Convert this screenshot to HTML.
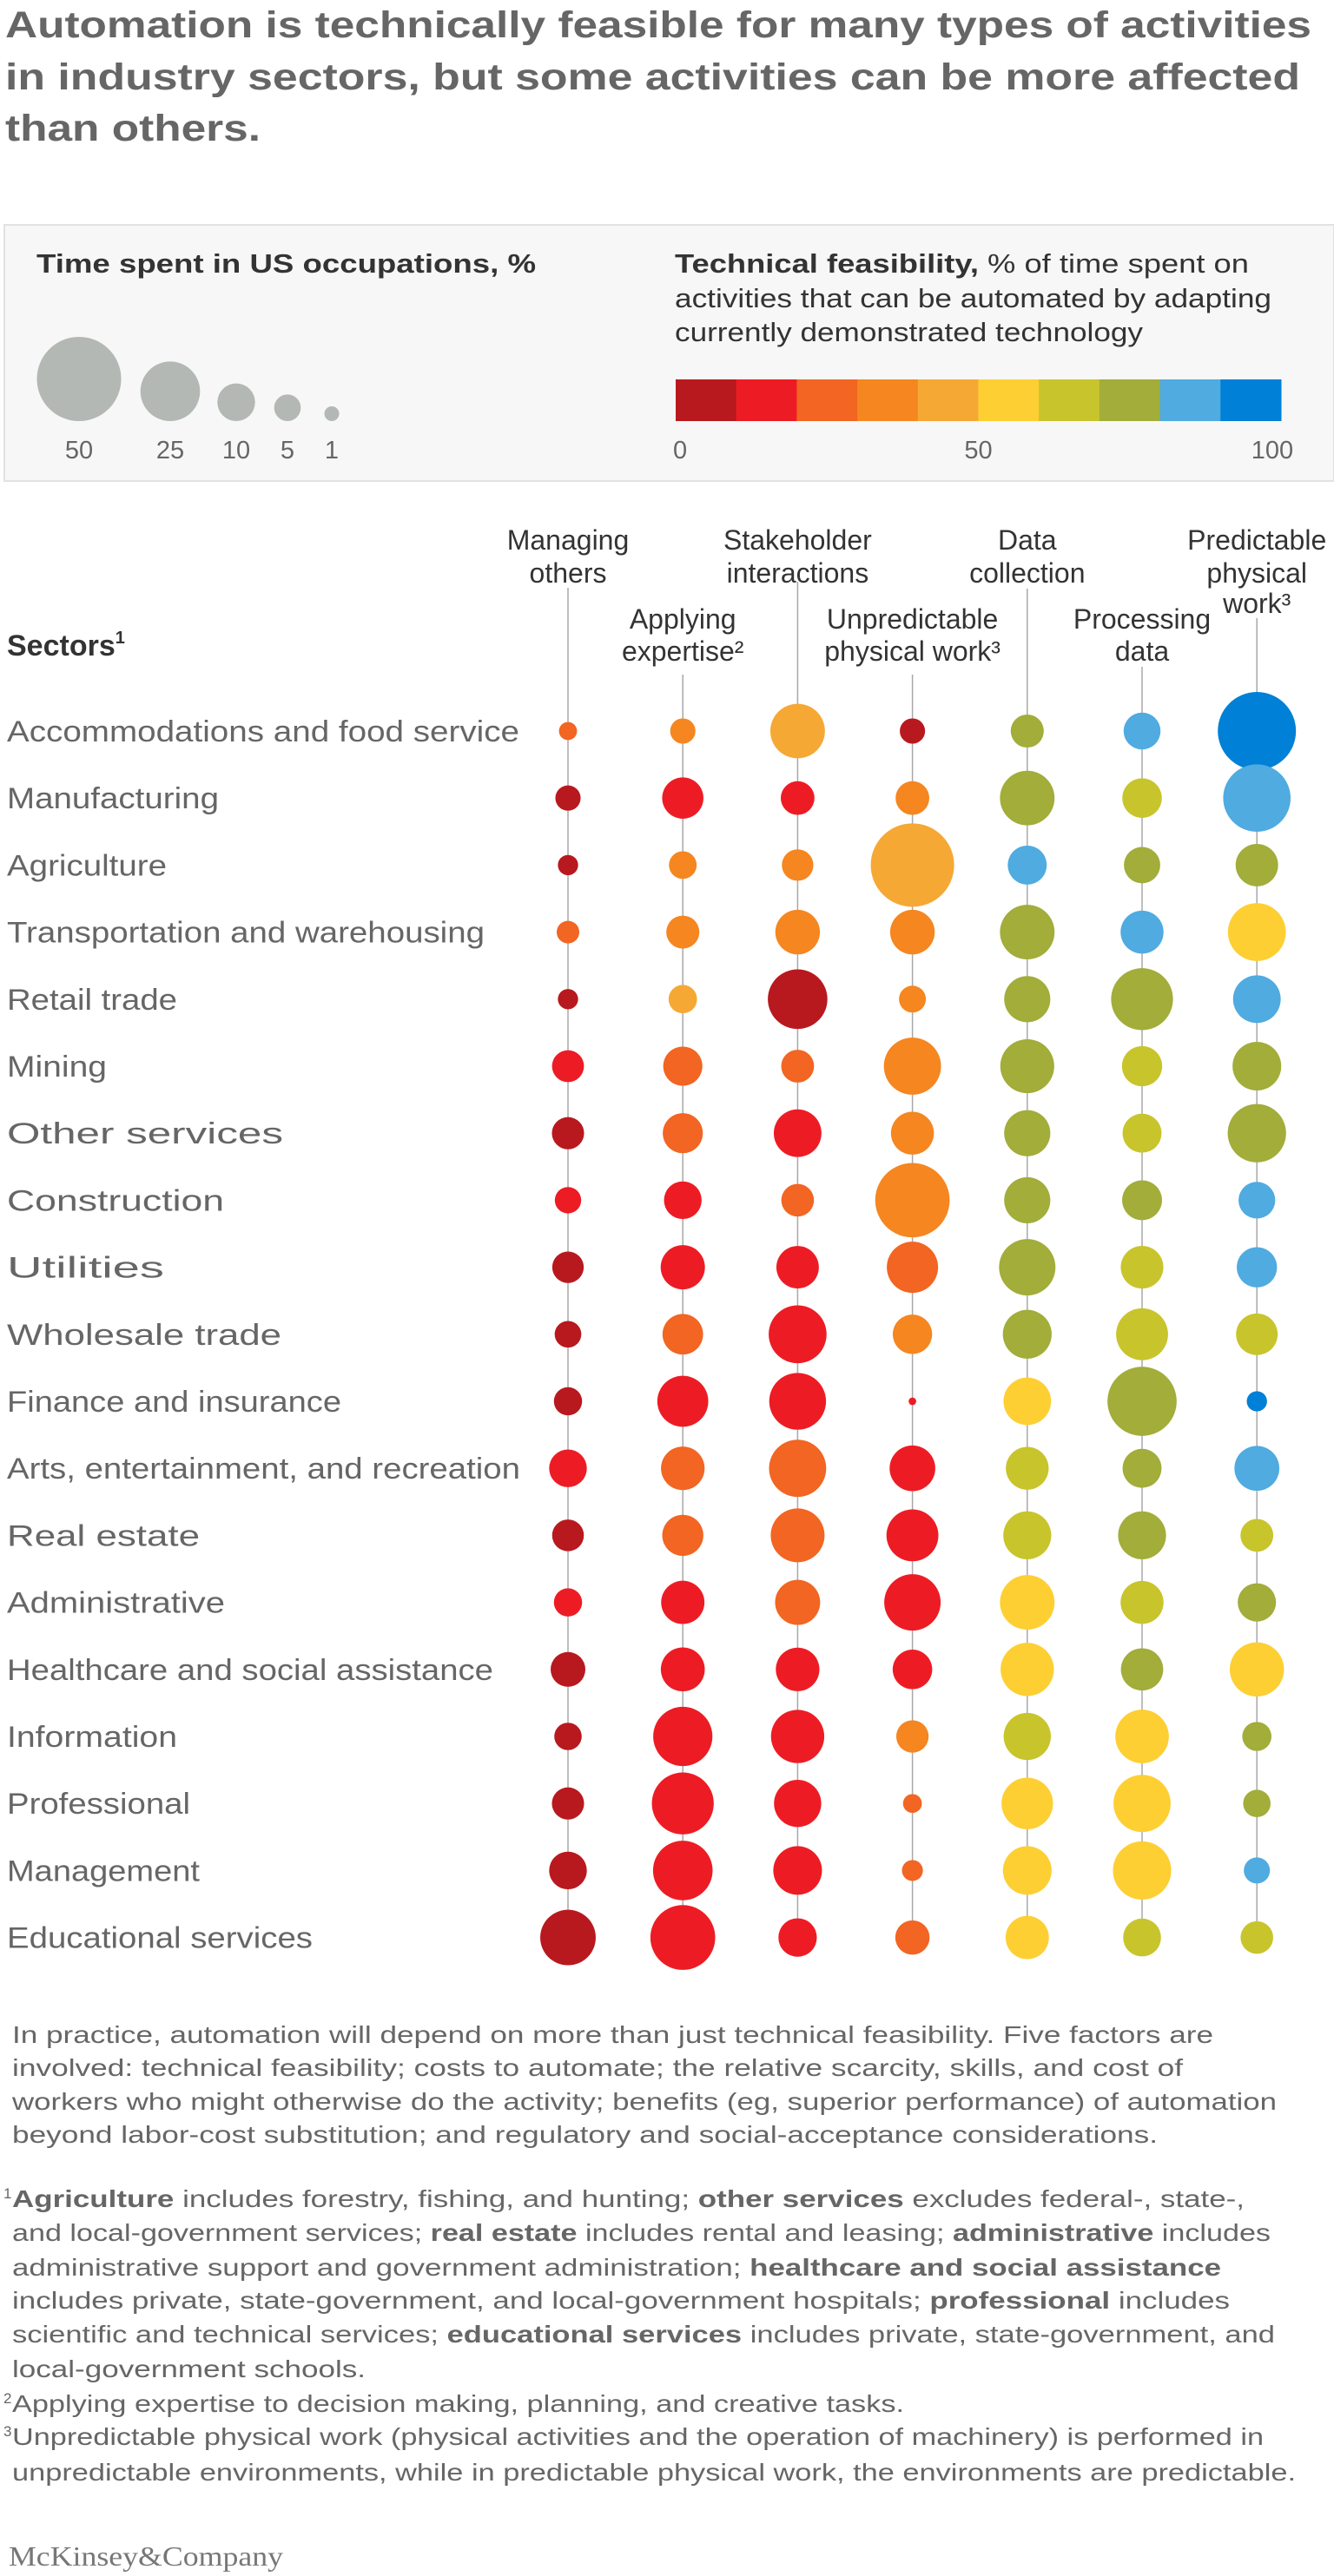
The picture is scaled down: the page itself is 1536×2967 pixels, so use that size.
<!DOCTYPE html>
<html><head><meta charset="utf-8"><style>
html,body{margin:0;padding:0;background:#fff;}
svg{display:block;font-family:"Liberation Sans",sans-serif;}
</style></head><body>
<svg id="chart" xmlns="http://www.w3.org/2000/svg" width="1536" height="2967" viewBox="0 0 1536 2967">
<g fill="#666" font-weight="bold" font-size="43">
<text x="6" y="43" textLength="1504" lengthAdjust="spacingAndGlyphs">Automation is technically feasible for many types of activities</text>
<text x="6" y="103" textLength="1491" lengthAdjust="spacingAndGlyphs">in industry sectors, but some activities can be more affected</text>
<text x="6" y="162" textLength="294" lengthAdjust="spacingAndGlyphs">than others.</text>
</g>
<g>
<rect x="5" y="259" width="1531" height="295" fill="#f7f7f7" stroke="#e2e2e2" stroke-width="2"/>
<text x="42" y="314" font-size="31" font-weight="bold" fill="#333" textLength="575" lengthAdjust="spacingAndGlyphs">Time spent in US occupations, %</text>
<text x="777" y="314" font-size="31" fill="#333" textLength="661" lengthAdjust="spacingAndGlyphs"><tspan font-weight="bold">Technical feasibility,</tspan> % of time spent on</text>
<text x="777" y="354" font-size="31" fill="#333" textLength="687" lengthAdjust="spacingAndGlyphs">activities that can be automated by adapting</text>
<text x="777" y="393" font-size="31" fill="#333" textLength="539" lengthAdjust="spacingAndGlyphs">currently demonstrated technology</text>
<g id="sizeLegend"></g>
<g id="colorLegend"></g>
</g>
<g id="grid"></g>
<g id="headers" fill="#333" font-size="32"></g>
<g id="labels" fill="#666" font-size="34"></g>
<g id="marks"></g>
<g fill="#666" font-size="28">
<text x="14" y="2353" textLength="1383" lengthAdjust="spacingAndGlyphs">In practice, automation will depend on more than just technical feasibility. Five factors are</text>
<text x="14" y="2391" textLength="1348" lengthAdjust="spacingAndGlyphs">involved: technical feasibility; costs to automate; the relative scarcity, skills, and cost of</text>
<text x="14" y="2430" textLength="1456" lengthAdjust="spacingAndGlyphs">workers who might otherwise do the activity; benefits (eg, superior performance) of automation</text>
<text x="14" y="2468" textLength="1319" lengthAdjust="spacingAndGlyphs">beyond labor-cost substitution; and regulatory and social-acceptance considerations.</text>
</g>
<g fill="#666" font-size="28">
<text x="4" y="2532" font-size="17">1</text>
<text x="14" y="2542" textLength="1419" lengthAdjust="spacingAndGlyphs"><tspan font-weight="bold">Agriculture</tspan> includes forestry, fishing, and hunting; <tspan font-weight="bold">other services</tspan> excludes federal-, state-,</text>
<text x="14" y="2581" textLength="1449" lengthAdjust="spacingAndGlyphs">and local-government services; <tspan font-weight="bold">real estate</tspan> includes rental and leasing; <tspan font-weight="bold">administrative</tspan> includes</text>
<text x="14" y="2621" textLength="1392" lengthAdjust="spacingAndGlyphs">administrative support and government administration; <tspan font-weight="bold">healthcare and social assistance</tspan></text>
<text x="14" y="2659" textLength="1402" lengthAdjust="spacingAndGlyphs">includes private, state-government, and local-government hospitals; <tspan font-weight="bold">professional</tspan> includes</text>
<text x="14" y="2698" textLength="1454" lengthAdjust="spacingAndGlyphs">scientific and technical services; <tspan font-weight="bold">educational services</tspan> includes private, state-government, and</text>
<text x="14" y="2738" textLength="407" lengthAdjust="spacingAndGlyphs">local-government schools.</text>
<text x="4" y="2768" font-size="17">2</text>
<text x="14" y="2778" textLength="1027" lengthAdjust="spacingAndGlyphs">Applying expertise to decision making, planning, and creative tasks.</text>
<text x="4" y="2806" font-size="17">3</text>
<text x="14" y="2816" textLength="1441" lengthAdjust="spacingAndGlyphs">Unpredictable physical work (physical activities and the operation of machinery) is performed in</text>
<text x="14" y="2857" textLength="1478" lengthAdjust="spacingAndGlyphs">unpredictable environments, while in predictable physical work, the environments are predictable.</text>
</g>
<text x="10" y="2955" font-family="Liberation Serif, serif" font-size="32" fill="#777" textLength="316" lengthAdjust="spacingAndGlyphs">McKinsey&amp;Company</text>
</svg>
<script>
const sectors = ["Accommodations and food service","Manufacturing","Agriculture","Transportation and warehousing","Retail trade","Mining","Other services","Construction","Utilities","Wholesale trade","Finance and insurance","Arts, entertainment, and recreation","Real estate","Administrative","Healthcare and social assistance","Information","Professional","Management","Educational services"];
const activities = ["Managing others","Applying expertise","Stakeholder interactions","Unpredictable physical work","Data collection","Processing data","Predictable physical work"];
const managingTime = [2.3,4.5,2.9,3.6,2.9,7.2,7.3,4.9,7,5,5.6,10,7.1,5.6,8.5,5.3,7.3,10,21.7];
const managingFeas = [25,5,5,25,5,15,5,15,5,5,5,15,5,15,5,5,5,5,5];
const expertiseTime = [4.5,12,5.4,7.7,5.7,10.8,11.3,10,13.8,11.6,18.3,13.4,11.9,13.2,13.6,24.7,27,25,29.6];
const expertiseFeas = [35,15,35,35,45,25,25,15,15,25,15,25,25,15,15,15,15,15,15];
const stakeholderTime = [21,8,7,14,25,7.6,16,7.5,12.7,23.6,22.7,23,20.4,14.3,13.4,20,15.7,16.7,10.4];
const stakeholderFeas = [45,15,35,35,5,25,15,25,15,15,15,25,25,25,15,15,15,15,15];
const unpredictableTime = [4.5,8,49,14,5.1,23,13,39,18.5,10.9,0.4,14.7,19,22.4,11,7.4,2.5,3.1,8.3];
const unpredictableFeas = [5,35,45,35,35,35,35,35,25,35,15,15,15,15,15,35,25,25,25];
const collectionTime = [7.7,21,10.7,21,15,20.5,15,15,22.4,16.8,15.9,12.9,16.2,21,20,15.7,18.7,16.7,13.2];
const collectionFeas = [75,75,85,75,75,75,75,75,75,75,55,65,65,55,55,65,55,55,55];
const processingTime = [9.6,11,9.3,13,27,11.4,10.7,11.2,12.8,19,33.7,10.7,16.2,13,12.6,20.2,23,23.9,10.1];
const processingFeas = [85,65,75,85,75,65,65,75,65,65,75,75,75,65,75,55,55,55,65];
const predictableTime = [43,32,12.7,23.6,16,16.7,24,9.5,11.4,12.2,2.9,14.2,7.6,10.3,20.7,6,5.3,4.8,7.5];
const predictableFeas = [95,85,75,55,85,75,75,85,85,65,95,85,65,75,55,75,75,85,65];
const sizeLegendValues = [50,25,10,5,1];
const colorTicks = [0,50,100];
const palette = ["#b8191e","#ed1c24","#f26522","#f58620","#f6a834","#fdcf33","#c8c42c","#a2ad3a","#4fabe0","#0080d6"];

const NS="http://www.w3.org/2000/svg";
function mk(tag,attrs,parent){const e=document.createElementNS(NS,tag);for(const k in attrs)e.setAttribute(k,attrs[k]);parent.appendChild(e);return e;}
const colX = i => 654 + i*132.2;
const rowY = i => 842 + i*77.2;
const rad = v => 6.86*Math.sqrt(v);
const colorOf = f => palette[Math.min(9,Math.floor(f/10))];
const timeCols=[managingTime,expertiseTime,stakeholderTime,unpredictableTime,collectionTime,processingTime,predictableTime];
const feasCols=[managingFeas,expertiseFeas,stakeholderFeas,unpredictableFeas,collectionFeas,processingFeas,predictableFeas];

// size legend
const sl=document.getElementById('sizeLegend');
const slX=[91,196,272,331,382];
sizeLegendValues.forEach((v,i)=>{
  const r=Math.max(rad(v),8.5);
  const c=mk('circle',{cx:slX[i],cy:485-r,r:r,fill:"#b3b8b4"},sl);
  
  
  const t=mk('text',{x:slX[i],y:528,'text-anchor':'middle','font-size':29,fill:'#666'},sl);
  t.textContent=v;
  
  
});
// color legend
const cl=document.getElementById('colorLegend');
const cbX0=778,cbX1=1475;
const cbX = v => cbX0 + (cbX1-cbX0)*v/100;
palette.forEach((p,i)=>{
  const r=mk('rect',{x:cbX(i*10),y:437,width:(cbX1-cbX0)/10+0.5,height:48,fill:p},cl);
  
  
});
colorTicks.forEach(v=>{
  const t=mk('text',{x:cbX(v)+(v===100?-10:0),y:528,'text-anchor':v===0?'start':'middle','font-size':29,fill:'#666'},cl);
  if(v===0)t.setAttribute('x',cbX0-3);
  t.textContent=v;
  
  
});
// headers
const hd=document.getElementById('headers');
const headerLines=[[["Managing",633],["others",671]],[["Applying",724],["expertise²",761]],[["Stakeholder",633],["interactions",671]],[["Unpredictable",724],["physical work³",761]],[["Data",633],["collection",671]],[["Processing",724],["data",761]],[["Predictable",633],["physical",671],["work³",706]]];
const lineTop=[677,777,670,777,678,768,712];
headerLines.forEach((lines,i)=>{
  lines.forEach(([s,y])=>{
    const t=mk('text',{x:colX(i),y:y,'text-anchor':'middle'},hd);
    t.textContent=s;
    
    
  });
});
// grid lines
const gd=document.getElementById('grid');
activities.forEach((a,i)=>{
  const l=mk('line',{x1:colX(i),x2:colX(i),y1:lineTop[i],y2:rowY(sectors.length-1),stroke:"#a8a8a8",'stroke-width':1.5},gd);
  
  
});
// labels
const lb=document.getElementById('labels');
const st=mk('text',{x:8,y:755,fill:'#333','font-weight':'bold','font-size':34},lb);
st.innerHTML='Sectors<tspan font-size="20" dy="-14">1</tspan>';


const labelW=[590,244,184,550,196,115,318,250,181,316,385,591,222,251,560,196,211,222,352];
sectors.forEach((s,i)=>{
  const t=mk('text',{x:8,y:rowY(i)+12,textLength:labelW[i],lengthAdjust:'spacingAndGlyphs'},lb);
  t.textContent=s;
  
  
});
// marks
const mg=document.getElementById('marks');
activities.forEach((a,j)=>{
  sectors.forEach((s,i)=>{
    const c=mk('circle',{cx:colX(j),cy:rowY(i),r:Math.max(rad(timeCols[j][i]),4),fill:colorOf(feasCols[j][i])},mg);
    
    
  });
});
</script>
</body></html>
